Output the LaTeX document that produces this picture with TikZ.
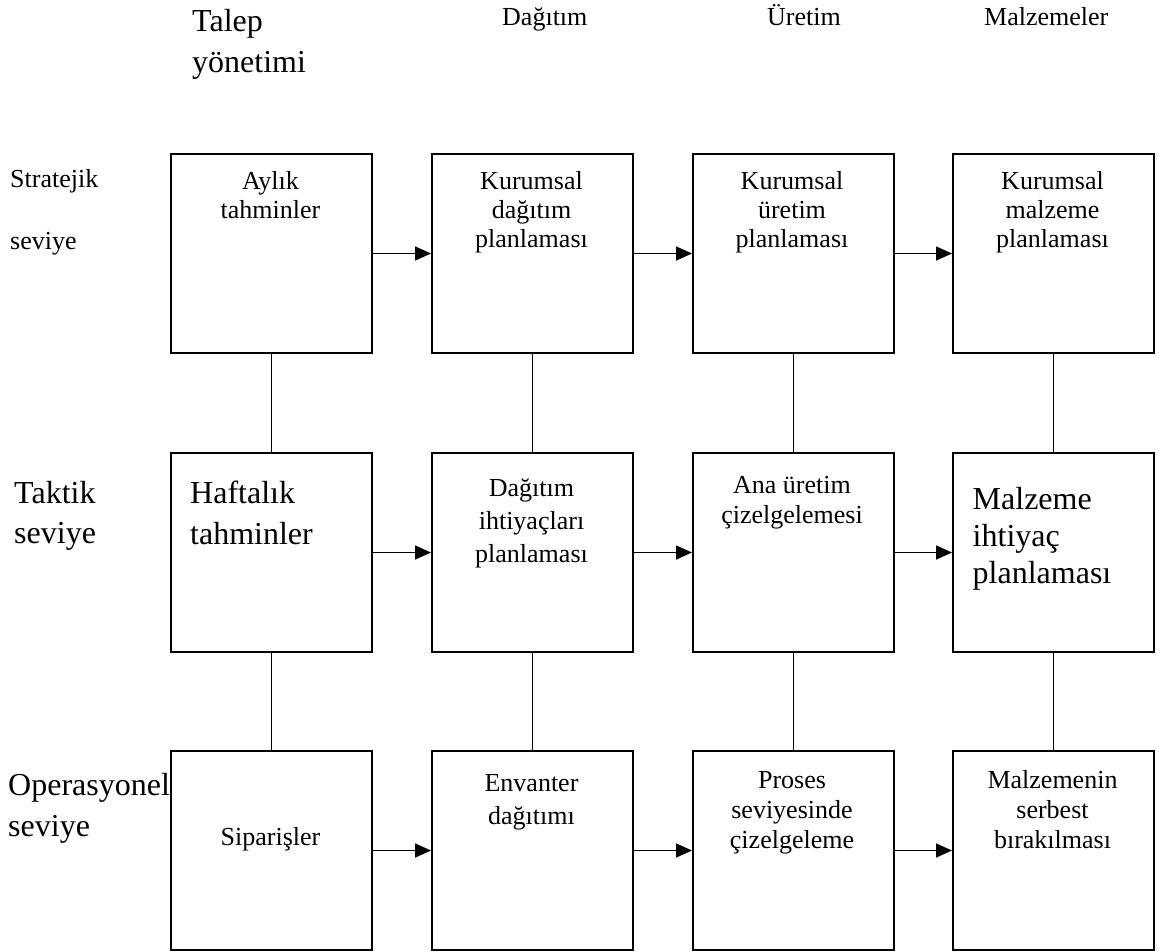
\documentclass[tikz,border=0pt]{standalone}
\usepackage{fontspec}
\setmainfont{Liberation Serif}
\usetikzlibrary{arrows.meta}

\tikzset{
  stagebox/.style={draw, line width=2pt, minimum width=201pt, minimum height=199pt,
                   inner sep=0pt, anchor=north west},
  flow/.style={line width=1.6pt, -{Triangle[length=16pt,width=14pt]}},
  link/.style={line width=1.6pt},
  % multi-line texts are placed by the baseline of their last line
  smalltxt/.style={inner sep=0pt, anchor=base, align=center, font=\fontsize{26}{29.3}\selectfont},
  bigtxt/.style={inner sep=0pt, anchor=base west, align=left, font=\fontsize{32}{41}\selectfont},
}

\begin{document}
\begin{tikzpicture}[x=1pt, y=-1pt]
\useasboundingbox (0,0) rectangle (1159,951);

% column headings
\node[bigtxt] (hDemand) at (192,72.5) {Talep\\yönetimi};
\node[smalltxt, anchor=base west] (hDist) at (502,25) {Dağıtım};
\node[smalltxt, anchor=base west] (hProd) at (767,25) {Üretim};
\node[smalltxt, anchor=base west] (hMat) at (984,25) {Malzemeler};

% level labels
\node[smalltxt, anchor=base west, align=left, font=\fontsize{26}{62}\selectfont] (lStrat) at (10,249) {Stratejik\\seviye};
\node[bigtxt, font=\fontsize{32}{40}\selectfont] (lTact) at (14,543) {Taktik\\seviye};
\node[bigtxt] (lOper) at (8,836) {Operasyonel\\seviye};

% boxes: rows = strategic, tactical, operational; columns = demand, distribution, production, materials
\node[stagebox] (b11) at (170,153) {};
\node[stagebox] (b12) at (431,153) {};
\node[stagebox] (b13) at (692,153) {};
\node[stagebox] (b14) at (952,153) {};
\node[stagebox] (b21) at (170,452) {};
\node[stagebox] (b22) at (431,452) {};
\node[stagebox] (b23) at (692,452) {};
\node[stagebox] (b24) at (952,452) {};
\node[stagebox] (b31) at (170,750) {};
\node[stagebox] (b32) at (431,750) {};
\node[stagebox] (b33) at (692,750) {};
\node[stagebox] (b34) at (952,750) {};

% box texts, strategic level
\node[smalltxt] (t11) at (270.5,218.3) {Aylık\\tahminler};
\node[smalltxt] (t12) at (531.5,247.6) {Kurumsal\\dağıtım\\planlaması};
\node[smalltxt] (t13) at (792,247.6) {Kurumsal\\üretim\\planlaması};
\node[smalltxt] (t14) at (1052.5,247.6) {Kurumsal\\malzeme\\planlaması};

% box texts, tactical level
\node[bigtxt] (t21) at (190,544.4) {Haftalık\\tahminler};
\node[smalltxt, font=\fontsize{26}{33}\selectfont] (t22) at (531.5,562.5) {Dağıtım\\ihtiyaçları\\planlaması};
\node[smalltxt, font=\fontsize{26}{30}\selectfont] (t23) at (792,523) {Ana üretim\\çizelgelemesi};
\node[bigtxt, font=\fontsize{32}{37}\selectfont] (t24) at (972.5,583) {Malzeme\\ihtiyaç\\planlaması};

% box texts, operational level
\node[smalltxt] (t31) at (270.5,845) {Siparişler};
\node[smalltxt, font=\fontsize{26}{33}\selectfont] (t32) at (531.5,824.7) {Envanter\\dağıtımı};
\node[smalltxt, font=\fontsize{26}{30}\selectfont] (t33) at (792,848) {Proses\\seviyesinde\\çizelgeleme};
\node[smalltxt, font=\fontsize{26}{30}\selectfont] (t34) at (1052.5,848) {Malzemenin\\serbest\\bırakılması};

% flows along each level
\foreach \r in {1,2,3}{
  \draw[flow] (b\r1.east) -- (b\r2.west);
  \draw[flow] (b\r2.east) -- (b\r3.west);
  \draw[flow] (b\r3.east) -- (b\r4.west);
}

% links between levels
\foreach \c in {1,2,3,4}{
  \draw[link] (b1\c.south) -- (b2\c.north);
  \draw[link] (b2\c.south) -- (b3\c.north);
}
\end{tikzpicture}
\end{document}
